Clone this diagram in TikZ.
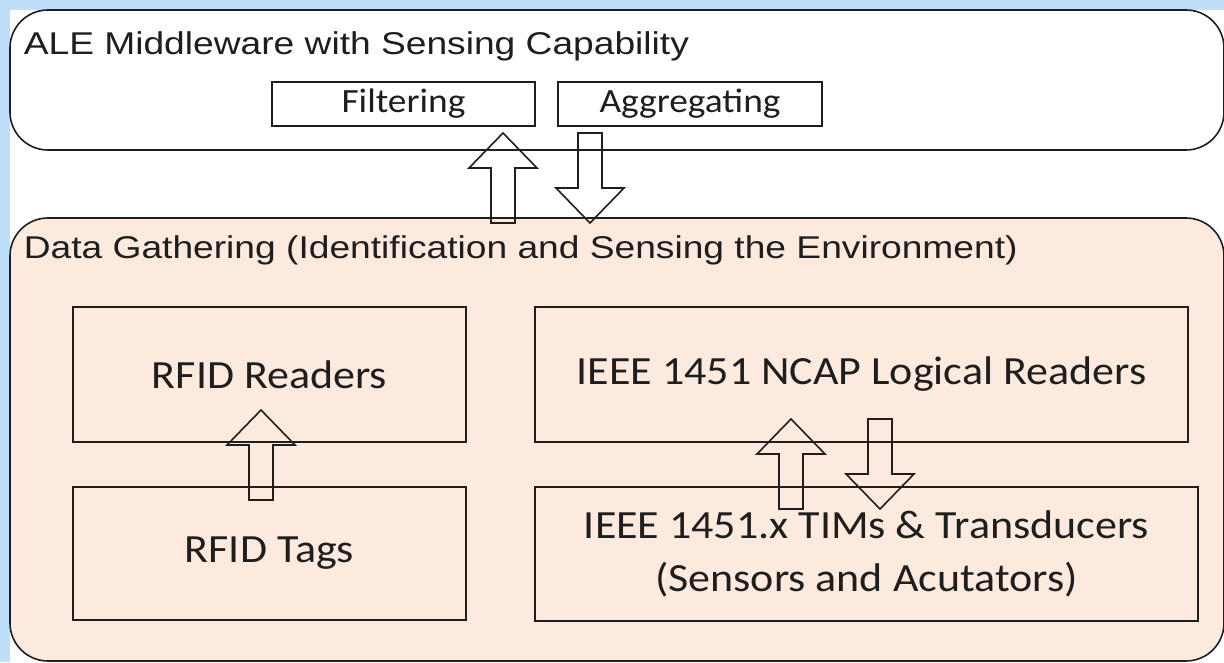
\documentclass[tikz,border=0pt]{standalone}
\usepackage{fontspec}
\usepackage{tikz}
\usetikzlibrary{calc}
\usetikzlibrary{positioning}
\newfontfamily\arialfont[FakeStretch=1.18]{Liberation Sans}
\newfontfamily\calfont[FakeStretch=1.1]{Carlito}
\definecolor{bgblue}{RGB}{190,222,250}
\definecolor{peach}{RGB}{252,234,222}
\definecolor{ink}{RGB}{30,30,30}
\tikzset{every picture/.style={line width=1.6pt},
  panel/.style={draw=ink,rounded corners=38pt,inner sep=0pt},
  box/.style={draw=ink,inner sep=0pt,text=ink,font=\calfont\fontsize{40}{53}\selectfont,align=center},
  smallbox/.style={box,font=\calfont\fontsize{34}{40}\selectfont},
  title/.style={anchor=west,inner sep=0pt,text=ink,font=\arialfont\fontsize{31.5}{36}\selectfont},
  blockarr/.style={draw=ink,line width=1.6pt,line join=miter}}
\newcommand{\blockarrow}[2]{% #1 tail, #2 tip
  \path ($(#2)!35pt!(#1)$) coordinate (hb);
  \draw[blockarr] ($(#1)!12pt!90:(#2)$) -- ($(hb)!12pt!90:(#2)$) -- ($(hb)!34pt!90:(#2)$)
    -- (#2) -- ($(hb)!34pt!-90:(#2)$) -- ($(hb)!12pt!-90:(#2)$) -- ($(#1)!12pt!-90:(#2)$) -- cycle;}
\begin{document}
\begin{tikzpicture}[x=1pt,y=-1pt]
\useasboundingbox (0,0) rectangle (1224,662);
\fill[bgblue] (0,0) rectangle (1224,662);
\fill[white] (10,10) rectangle (1224,662);
% middleware layer
\node[panel,fill=white,minimum width=1214pt,minimum height=140pt] (ale) at (617,80) {};
\node[title] (aletitle) at (23,46) {ALE Middleware with Sensing Capability};
\node[smallbox,minimum width=263pt,minimum height=44pt] (filter) at (403.5,104) {Filtering};
\node[smallbox,minimum width=264pt,minimum height=44pt] (aggr) at (690,104) {Aggregating};
% gathering layer
\node[panel,fill=peach,minimum width=1214pt,minimum height=443pt] (gather) at (617,439.5) {};
\node[title] (gathertitle) at (23,250) {Data Gathering (Identification and Sensing the Environment)};
\node[box,minimum width=393pt,minimum height=135pt] (readers) at (269.5,374.5) {RFID Readers};
\node[box,minimum width=393pt,minimum height=133pt] (tags) at (269.5,553.5) {RFID Tags};
\node[box,minimum width=653pt,minimum height=135pt] (ncap) at (861.5,374.5) {IEEE 1451 NCAP Logical Readers};
\node[box,minimum width=663pt,minimum height=134pt] (tims) at (866.5,554) {IEEE 1451.x TIMs \& Transducers\\(Sensors and Acutators)};
% arrow ends
\coordinate (up1a) at (503,223); \coordinate (up1b) at (503,133);
\coordinate (dn1a) at (590,133); \coordinate (dn1b) at (590,223);
\coordinate (up2a) at (261,500); \coordinate (up2b) at (261,410);
\coordinate (up3a) at (791,509); \coordinate (up3b) at (791,419);
\coordinate (dn3a) at (880,419); \coordinate (dn3b) at (880,509);
\blockarrow{up1a}{up1b}
\blockarrow{dn1a}{dn1b}
\blockarrow{up2a}{up2b}
\blockarrow{up3a}{up3b}
\blockarrow{dn3a}{dn3b}
\end{tikzpicture}
\end{document}
